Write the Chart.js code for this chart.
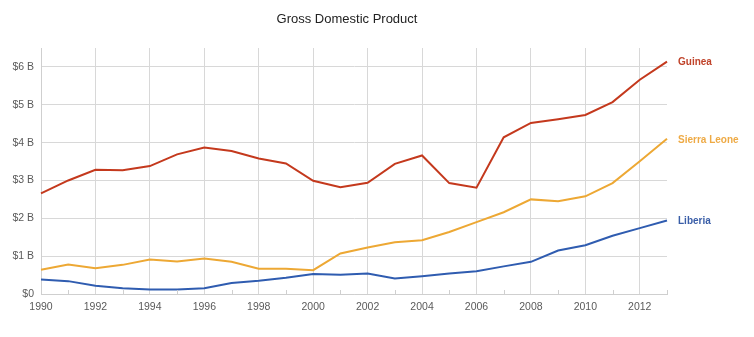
<!DOCTYPE html>
<html>
<head>
<meta charset="utf-8">
<script src="https://cdn.jsdelivr.net/npm/chart.js@4/dist/chart.umd.min.js"></script>
<style>
html,body{margin:0;padding:0;background:#fff;}
#wrap{width:754px;height:337px;position:relative;}
</style>
</head>
<body>
<div id="wrap"><canvas id="c" width="754" height="337"></canvas></div>
<script>
const years = [1990,1991,1992,1993,1994,1995,1996,1997,1998,1999,2000,2001,2002,2003,2004,2005,2006,2007,2008,2009,2010,2011,2012,2013];
const guinea = [2.66,3.00,3.28,3.27,3.38,3.69,3.87,3.78,3.58,3.45,2.99,2.82,2.94,3.44,3.66,2.93,2.81,4.14,4.52,4.62,4.73,5.07,5.66,6.14];
const sierraLeone = [0.64,0.78,0.68,0.77,0.91,0.86,0.94,0.85,0.67,0.67,0.63,1.07,1.23,1.37,1.42,1.64,1.90,2.16,2.50,2.45,2.58,2.93,3.51,4.10];
const liberia = [0.38,0.34,0.22,0.15,0.12,0.12,0.15,0.29,0.35,0.43,0.53,0.51,0.54,0.41,0.47,0.54,0.60,0.73,0.85,1.15,1.29,1.54,1.74,1.94];
const seriesNames = ['Guinea','Sierra Leone','Liberia'];
const yTickValues = [0,1,2,3,4,5,6];
const titleText = 'Gross Domestic Product';

const colors = ['#c4391d','#eda834','#2f5cb0'];
const labelColors = ['#c0432a','#eeaa45','#3a5ea8'];

const endLabels = {
  id:'endLabels',
  afterDatasetsDraw(chart){
    const ctx = chart.ctx;
    ctx.save();
    ctx.font = 'bold 10px "Liberation Sans", Arial, sans-serif';
    ctx.textBaseline = 'middle';
    ctx.textAlign = 'left';
    chart.data.datasets.forEach((ds,i)=>{
      const meta = chart.getDatasetMeta(i);
      const pt = meta.data[meta.data.length-1];
      ctx.fillStyle = labelColors[i];
      ctx.fillText(ds.label, pt.x + 11, pt.y + 1);
    });
    ctx.restore();
  }
};
const titlePlugin = {
  id:'titleDraw',
  afterDraw(chart){
    const ctx = chart.ctx;
    ctx.save();
    ctx.font = '13px "Liberation Sans", Arial, sans-serif';
    ctx.fillStyle = '#222';
    ctx.textAlign = 'center';
    ctx.textBaseline = 'middle';
    ctx.fillText(titleText, 347, 19);
    ctx.restore();
  }
};
const minorTicks = {
  id:'minorTicks',
  afterDatasetsDraw(chart){
    const xs = chart.scales.x, ys = chart.scales.y;
    const ctx = chart.ctx;
    ctx.save();
    ctx.strokeStyle = '#cfcfcf';
    ctx.lineWidth = 1;
    const y0 = ys.getPixelForValue(0);
    years.forEach(yr=>{
      if (yr % 2 === 1) {
        const x = Math.round(xs.getPixelForValue(yr)) + 0.5;
        ctx.beginPath();
        ctx.moveTo(x, y0);
        ctx.lineTo(x, y0 - 4);
        ctx.stroke();
      }
    });
    ctx.restore();
  }
};

const datasets = [guinea, sierraLeone, liberia].map((vals,i)=>({
  label: seriesNames[i],
  data: years.map((y,j)=>({x:y, y:vals[j]})),
  borderColor: colors[i],
  backgroundColor: colors[i],
  borderWidth: 2,
  pointRadius: 0,
  tension: 0,
  clip: false
}));

new Chart(document.getElementById('c'), {
  type:'line',
  data:{ datasets },
  plugins:[minorTicks, endLabels, titlePlugin],
  options:{
    responsive:false,
    animation:false,
    layout:{ padding:{ left:0, right:87, top:48, bottom:0 } },
    plugins:{ legend:{display:false}, tooltip:{enabled:false}, title:{display:false} },
    scales:{
      x:{
        type:'linear',
        min:1990, max:2013,
        afterFit(scale){ scale.height = 43; },
        afterBuildTicks(scale){ scale.ticks = years.map(v=>({value:v})); },
        grid:{
          color:(c)=> (c.tick && c.tick.value % 2 === 0) ? '#d8d8d8' : 'rgba(0,0,0,0)',
          drawTicks:false,
          lineWidth:1
        },
        border:{ display:true, color:'#cfcfcf' },
        ticks:{
          autoSkip:false,
          maxRotation:0,
          padding:7,
          color:'#5a5a5a',
          font:{ family:'"Liberation Sans", Arial, sans-serif', size:10.5 },
          callback:(v)=> (v % 2 === 0) ? String(v) : ''
        }
      },
      y:{
        min:0, max:6.5,
        afterFit(scale){ scale.width = 41; },
        afterBuildTicks(scale){ scale.ticks = yTickValues.map(v=>({value:v})); },
        grid:{ color:'#d8d8d8', drawTicks:false, lineWidth:1 },
        border:{ display:true, color:'#cfcfcf' },
        ticks:{
          padding:7,
          color:'#5a5a5a',
          font:{ family:'"Liberation Sans", Arial, sans-serif', size:10.5 },
          callback:(v)=> v === 0 ? '$0' : '$' + v + ' B'
        }
      }
    }
  }
});
</script>
</body>
</html>
